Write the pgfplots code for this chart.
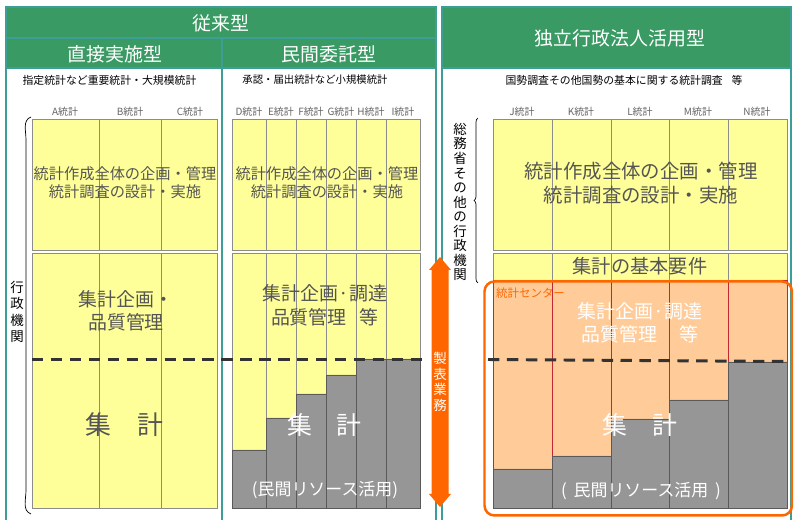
\documentclass[border=0pt]{standalone}
\usepackage{pgfplots}
\pgfplotsset{compat=1.18}
\usepackage{fontspec}
\setmainfont{Noto Sans CJK JP}
\usetikzlibrary{decorations.pathreplacing}
\definecolor{hdr}{RGB}{58,154,100}
\definecolor{frm}{RGB}{60,158,150}
\definecolor{yel}{RGB}{255,255,153}
\definecolor{colline}{RGB}{140,140,140}
\definecolor{barg}{RGB}{150,150,150}
\definecolor{barline}{RGB}{90,90,90}
\definecolor{orgfill}{RGB}{255,204,153}
\definecolor{orgline}{RGB}{192,40,50}
\definecolor{org}{RGB}{255,102,0}
\definecolor{txt}{RGB}{85,85,85}
\definecolor{lbl}{RGB}{100,100,100}
\newcommand{\fs}[2]{\fontsize{#1}{#2}\selectfont}
\begin{document}
\begin{tikzpicture}
\useasboundingbox (0,0) rectangle (794bp,520bp);
\begin{scope}[x=1bp, y=-1bp, shift={(0bp,520bp)}]
% headers
\fill[hdr] (6,7) rectangle (436,68);
\fill[hdr] (442,7) rectangle (791,68);
\draw[frm, line width=1.2] (6,520) -- (6,7) -- (436,7) -- (436,520);
\draw[frm, line width=1.2] (6,38) -- (436,38);
\draw[frm, line width=1.2] (6,68) -- (436,68);
\draw[frm, line width=1.2] (222,38) -- (222,520);
\draw[frm, line width=1.2] (442,520) -- (442,7) -- (791,7) -- (791,520);
\draw[frm, line width=1.2] (442,68) -- (791,68);
% top yellow blocks
\filldraw[fill=yel, draw=colline, line width=0.8] (32,119) rectangle (217,250);
\foreach \x in {99,161} \draw[colline, line width=0.8] (\x,119) -- (\x,250);
\filldraw[fill=yel, draw=colline, line width=0.8] (232,119) rectangle (420,250);
\foreach \x in {266,296,326,356,386} \draw[colline, line width=0.8] (\x,119) -- (\x,250);
\filldraw[fill=yel, draw=colline, line width=0.8] (493,119) rectangle (787,250);
\foreach \x in {552,611,669,728} \draw[colline, line width=0.8] (\x,119) -- (\x,250);
\filldraw[fill=yel, draw=colline, line width=0.8] (493,253) rectangle (787,280);
\foreach \x in {552,611,669,728} \draw[colline, line width=0.8] (\x,253) -- (\x,280);
\end{scope}
% bars: data y = height above the common base line
\begin{axis}[x=1bp, y=1bp, xmin=0, xmax=794, ymin=-12, ymax=508,
  hide axis, clip=false, anchor=south west, at={(0,0)}]
\addplot[ybar interval, fill=yel, draw=colline, line width=0.8]
  coordinates {(32,255) (99,255) (161,255) (217,255)};
\addplot[ybar interval, fill=yel, draw=colline, line width=0.8]
  coordinates {(232,255) (266,255) (296,255) (326,255) (356,255) (386,255) (420,255)};
\addplot[ybar interval, fill=barg, draw=barline, line width=0.8]
  coordinates {(232,58) (266,90) (296,114) (326,133) (356,149) (386,149) (420,149)};
\addplot[ybar interval, fill=orgfill, draw=orgline, line width=0.8]
  coordinates {(493,228) (552,228) (611,228) (669,228) (728,228) (787,228)};
\addplot[ybar interval, fill=barg, draw=barline, line width=0.8]
  coordinates {(493,39) (552,52) (611,89) (669,108) (728,146) (787,146)};
\end{axis}
\begin{scope}[x=1bp, y=-1bp, shift={(0bp,520bp)}]
% dashed lines
\draw[black!80, line width=3, dash pattern=on 11.5 off 7.5] (32,360) -- (424,360);
\draw[black!80, line width=3, dash pattern=on 11.5 off 7.5] (488,359.5) -- (790,361.5);
% header texts
\node[white, font=\fs{19}{22}, inner sep=0] at (221,23) {従来型};
\node[white, font=\fs{19}{22}, inner sep=0] at (115,54) {直接実施型};
\node[white, font=\fs{19}{22}, inner sep=0] at (329,54) {民間委託型};
\node[white, font=\fs{19}{22}, inner sep=0] at (620,38) {独立行政法人活用型};
% subtitles
\node[font=\fs{10.9}{13}, inner sep=0] at (109.5,80) {指定統計など重要統計・大規模統計};
\node[font=\fs{10.4}{13}, inner sep=0] at (315,80) {承認・届出統計など小規模統計};
\node[font=\fs{10.9}{13}, inner sep=0] at (624,80) {国勢調査その他国勢の基本に関する統計調査\hspace{0.8em}等};
% column labels
\foreach \x/\l in {65/A,130/B,190/C,249/D,281/E,311/F,341/G,371/H,403/I,522/J,581/K,640/L,698/M,757/N}
  \node[lbl, font=\fs{10}{12}, inner sep=0] at (\x,112) {\l 統計};
% top block texts
\node[txt, font=\fs{15.3}{18}, align=center, inner sep=0] at (125,183) {統計作成全体の企画・管理\\統計調査の設計・実施};
\node[txt, font=\fs{15.3}{18}, align=center, inner sep=0] at (327,183) {統計作成全体の企画・管理\\統計調査の設計・実施};
\node[txt, font=\fs{19.5}{24}, align=center, inner sep=0] at (641,183) {統計作成全体の企画・管理\\統計調査の設計・実施};
\node[txt, font=\fs{19.3}{22}, inner sep=0] at (640,266) {集計の基本要件};
% left bottom
\node[txt, font=\fs{19}{23}, align=center, inner sep=0] at (126,311) {集計企画・\\品質管理};
\node[txt, font=\fs{26}{30}, inner sep=0] at (124.5,425) {集\hspace{1em}計};
% middle bottom
\node[txt, font=\fs{19}{24}, align=center, inner sep=0] at (325,305) {集計企画·調達\\品質管理\hspace{0.7em}等};
\node[white, font=\fs{25}{30}, inner sep=0] at (324.5,425) {集\hspace{1em}計};
\node[white, font=\fs{17}{20}, inner sep=0] at (325,490) {(民間リソース活用)};
% right bottom
\node[org, font=\fs{11.5}{13}, inner sep=0, anchor=west] at (496,293) {統計センター};
\node[white, font=\fs{19}{23}, align=center, inner sep=0] at (640,323) {集計企画·調達\\品質管理\hspace{1.2em}等};
\node[white, font=\fs{25}{30}, inner sep=0] at (640,425) {集\hspace{1em}計};
\node[white, font=\fs{17}{20}, inner sep=0] at (641,491) {(\hspace{0.4em}民間リソース活用\hspace{0.4em})};
% orange frame
\draw[org, line width=2.5, rounded corners=10] (484.5,281.5) rectangle (792,515.5);
% vertical labels
\node[font=\fs{13.5}{16.5}, align=center, inner sep=0] at (17,312) {行\\政\\機\\関};
\draw[line width=0.7] (31,117) to[out=200, in=90] (26,140) -- (26,490) to[out=-90, in=160] (31,514);
\node[font=\fs{13.5}{14.6}, align=center, inner sep=0] at (460,202) {総\\務\\省\\そ\\の\\他\\の\\行\\政\\機\\関};
\draw[line width=0.7, decorate, decoration={brace, amplitude=4}] (478,283) -- (478,118);
% arrow
\fill[org] (440,257) -- (451,270) -- (448.5,270) -- (448.5,494) -- (451,494) -- (440,507)
  -- (429,494) -- (431.5,494) -- (431.5,270) -- (429,270) -- cycle;
\node[white, font=\fs{13.5}{15.5}, align=center, inner sep=0] at (440,382) {製\\表\\業\\務};
\end{scope}
\end{tikzpicture}
\end{document}
